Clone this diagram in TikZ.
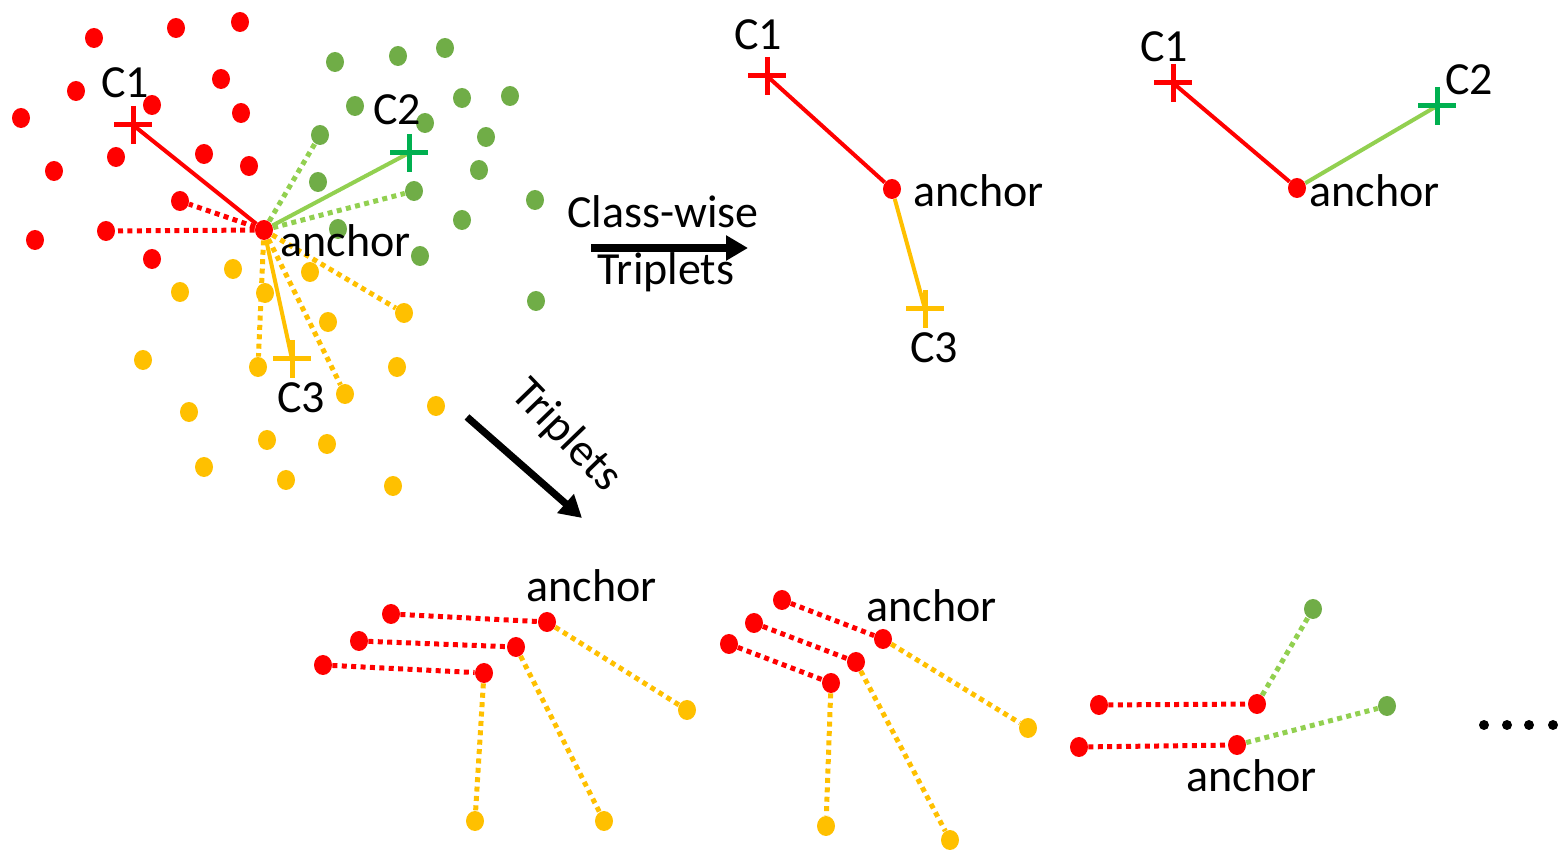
\documentclass[tikz,border=0pt]{standalone}
\usepackage{fontspec}
\setmainfont{Carlito}
\usetikzlibrary{shapes.geometric,arrows.meta}
\pgfdeclarelayer{bg}
\pgfsetlayers{bg,main}
\definecolor{cred}{HTML}{FF0000}
\definecolor{cgreen}{HTML}{70AD47}
\definecolor{clgreen}{HTML}{92D050}
\definecolor{cyel}{HTML}{FFC000}
\definecolor{cdkgreen}{HTML}{00B050}
\tikzset{
 dotnode/.style={ellipse, inner sep=0pt, minimum width=9pt, minimum height=10pt, draw=none, fill=#1},
 rd/.style={dotnode=cred}, gd/.style={dotnode=cgreen}, yd/.style={dotnode=cyel},
 bd/.style={circle, inner sep=0pt, minimum size=5pt, fill=black},
 lbl/.style={font=\fontsize{23}{28}\selectfont, inner sep=0pt, anchor=base west},
 solidln/.style={line width=2pt, draw=#1},
 dotln/.style={line width=2.5pt, draw=#1, dash pattern=on 2.5pt off 2.2pt},
 crossln/.style={line width=2.5pt, draw=#1},
 bigarrow/.style={line width=3.6pt, -{Triangle[length=11pt,width=12pt]}},
}
\begin{document}
\begin{tikzpicture}[x=0.5pt,y=-0.5pt]
\useasboundingbox (0,0) rectangle (1564,854);

% ---------- left cluster ----------
\foreach \n/\x/\y in {r1/94/38, r2/176/28, r3/240/22, r4/76/91, r5/152/105, r6/221/79, r7/241/113, r8/21/118, r9/116/157, r10/204/154, r11/249/166, r12/54/171, r13/180/201, r14/106/231, r15/35/240, r16/152/259, anc/264/230}
  \node[rd] (\n) at (\x,\y) {};
\foreach \n/\x/\y in {g1/335/62, g2/398/56, g3/445/48, g4/355/106, g5/425/123, g6/462/98, g7/510/96, g8/320/135, g9/486/137, g10/318/182, g11/414/191, g12/479/170, g13/535/200, g14/338/229, g15/462/220, g16/420/256, g17/536/301}
  \node[gd] (\n) at (\x,\y) {};
\foreach \n/\x/\y in {y1/233/269, y2/180/292, y3/265/293, y4/310/272, y5/404/313, y6/328/322, y7/143/360, y8/258/367, y9/397/367, y10/345/394, y11/189/412, y12/436/406, y13/267/440, y14/327/444, y15/204/467, y16/286/480, y17/393/486}
  \node[yd] (\n) at (\x,\y) {};
\coordinate (cA) at (133,125);
\coordinate (cB) at (409,153);
\coordinate (cC) at (292,359);
\begin{pgfonlayer}{bg}
\draw[solidln=cred] (anc) -- (cA);
\draw[solidln=clgreen] (anc) -- (cB);
\draw[solidln=cyel] (anc) -- (cC);
\draw[dotln=cred] (anc) -- (r14);
\draw[dotln=cred] (anc) -- (r13);
\draw[dotln=clgreen] (anc) -- (g8);
\draw[dotln=clgreen] (anc) -- (g11);
\draw[dotln=cyel] (anc) -- (y5);
\draw[dotln=cyel] (anc) -- (y10);
\draw[dotln=cyel] (anc) -- (y8);
\end{pgfonlayer}
\draw[crossln=cred] (cA) +(-19,0) -- +(19,0) (cA) +(0,-19) -- +(0,19);
\draw[crossln=cdkgreen] (cB) +(-19,0) -- +(19,0) (cB) +(0,-19) -- +(0,19);
\draw[crossln=cyel] (cC) +(-19,0) -- +(19,0) (cC) +(0,-19) -- +(0,19);
\node[lbl] (tC1a) at (101,98) {C1};
\node[lbl] (tC2a) at (373,125) {C2};
\node[lbl] (tC3a) at (277,413) {C3};
\node[lbl] (tanca) at (280,257) {anchor};

% ---------- arrows ----------
\coordinate (a1s) at (591,248);
\coordinate (a1e) at (748,248);
\draw[bigarrow] (a1s) -- (a1e);
\node[lbl] (tcw) at (567,228) {Class-wise};
\node[lbl] (ttr1) at (597,285) {Triplets};
\coordinate (a2s) at (467,417);
\coordinate (a2e) at (582,518);
\draw[bigarrow] (a2s) -- (a2e);
\node[font=\fontsize{23}{28}\selectfont, inner sep=0pt, rotate=-46] (ttr2) at (566,436) {Triplets};

% ---------- top middle ----------
\node[rd] (ancb) at (892,189) {};
\coordinate (cD) at (767,76);
\coordinate (cE) at (925,309);
\begin{pgfonlayer}{bg}
\draw[solidln=cred] (ancb) -- (cD);
\draw[solidln=cyel] (ancb) -- (cE);
\end{pgfonlayer}
\draw[crossln=cred] (cD) +(-19,0) -- +(19,0) (cD) +(0,-19) -- +(0,19);
\draw[crossln=cyel] (cE) +(-19,0) -- +(19,0) (cE) +(0,-19) -- +(0,19);
\node[lbl] (tC1b) at (734,50) {C1};
\node[lbl] (tC3b) at (910,363) {C3};
\node[lbl] (tancb) at (913,207) {anchor};

% ---------- top right ----------
\node[rd] (ancc) at (1297,188) {};
\coordinate (cF) at (1173,83);
\coordinate (cG) at (1437,106);
\begin{pgfonlayer}{bg}
\draw[solidln=cred] (ancc) -- (cF);
\draw[solidln=clgreen] (ancc) -- (cG);
\end{pgfonlayer}
\draw[crossln=cred] (cF) +(-19,0) -- +(19,0) (cF) +(0,-19) -- +(0,19);
\draw[crossln=cdkgreen] (cG) +(-19,0) -- +(19,0) (cG) +(0,-19) -- +(0,19);
\node[lbl] (tC1c) at (1140,62) {C1};
\node[lbl] (tC2c) at (1445,95) {C2};
\node[lbl] (tancc) at (1309,207) {anchor};

% ---------- bottom group 1 ----------
\node[rd] (p1) at (391,614) {};
\node[rd] (p2) at (359,641) {};
\node[rd] (p3) at (323,665) {};
\node[rd] (q1) at (547,622) {};
\node[rd] (q2) at (516,647) {};
\node[rd] (q3) at (484,673) {};
\node[yd] (s1) at (687,710) {};
\node[yd] (s2) at (604,821) {};
\node[yd] (s3) at (475,821) {};
\begin{pgfonlayer}{bg}
\draw[dotln=cred] (p1) -- (q1);
\draw[dotln=cred] (p2) -- (q2);
\draw[dotln=cred] (p3) -- (q3);
\draw[dotln=cyel] (q1) -- (s1);
\draw[dotln=cyel] (q2) -- (s2);
\draw[dotln=cyel] (q3) -- (s3);
\end{pgfonlayer}
\node[lbl] (tancd) at (526,602) {anchor};

% ---------- bottom group 2 ----------
\node[rd] (p4) at (782,600) {};
\node[rd] (p5) at (754,623) {};
\node[rd] (p6) at (729,644) {};
\node[rd] (q4) at (883,639) {};
\node[rd] (q5) at (856,662) {};
\node[rd] (q6) at (831,683) {};
\node[yd] (s4) at (1028,728) {};
\node[yd] (s5) at (950,840) {};
\node[yd] (s6) at (826,826) {};
\begin{pgfonlayer}{bg}
\draw[dotln=cred] (p4) -- (q4);
\draw[dotln=cred] (p5) -- (q5);
\draw[dotln=cred] (p6) -- (q6);
\draw[dotln=cyel] (q4) -- (s4);
\draw[dotln=cyel] (q5) -- (s5);
\draw[dotln=cyel] (q6) -- (s6);
\end{pgfonlayer}
\node[lbl] (tance) at (866,622) {anchor};

% ---------- bottom group 3 ----------
\node[rd] (p7) at (1099,705) {};
\node[rd] (p8) at (1079,747) {};
\node[rd] (q7) at (1257,704) {};
\node[rd] (q8) at (1237,745) {};
\node[gd] (s7) at (1313,609) {};
\node[gd] (s8) at (1387,706) {};
\begin{pgfonlayer}{bg}
\draw[dotln=cred] (p7) -- (q7);
\draw[dotln=cred] (p8) -- (q8);
\draw[dotln=clgreen] (q7) -- (s7);
\draw[dotln=clgreen] (q8) -- (s8);
\end{pgfonlayer}
\node[lbl] (tancf) at (1186,792) {anchor};

\node[bd] (e1) at (1484,725) {};
\node[bd] (e2) at (1507,725) {};
\node[bd] (e3) at (1529,725) {};
\node[bd] (e4) at (1553,725) {};
\end{tikzpicture}
\end{document}
